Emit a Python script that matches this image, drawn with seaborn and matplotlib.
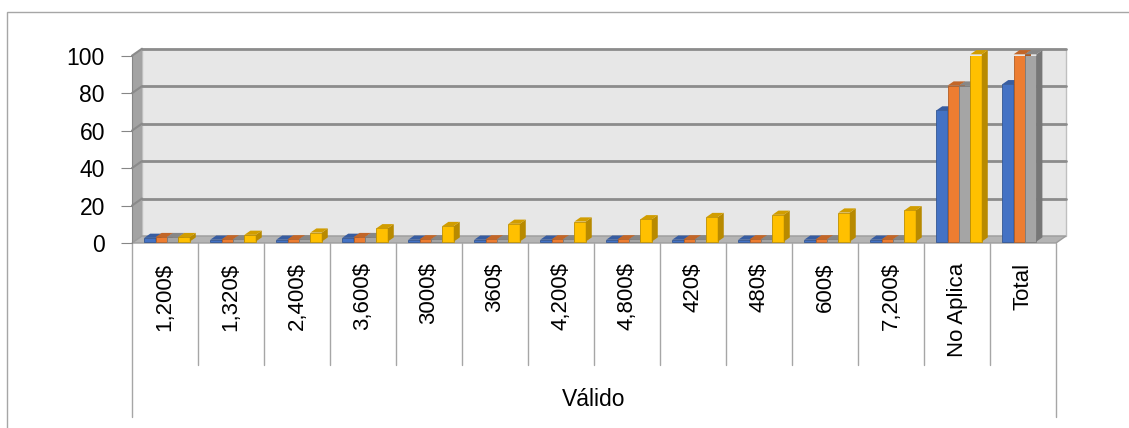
import numpy as np
import pandas as pd
import matplotlib
matplotlib.use('Agg')
import matplotlib.pyplot as plt
import seaborn as sns
from matplotlib.patches import Polygon, Rectangle
from matplotlib.lines import Line2D
from matplotlib.transforms import IdentityTransform, offset_copy, blended_transform_factory
from matplotlib.colors import to_rgb

# data (SPSS frequency table)
categories = ['1,200$', '1,320$', '2,400$', '3,600$', '3000$', '360$', '4,200$',
              '4,800$', '420$', '480$', '600$', '7,200$', 'No Aplica', 'Total']
frecuencia = [2, 1, 1, 2, 1, 1, 1, 1, 1, 1, 1, 1, 70, 84]
porcentaje = [2.4, 1.2, 1.2, 2.4, 1.2, 1.2, 1.2, 1.2, 1.2, 1.2, 1.2, 1.2, 83.3, 100]
porcentaje_valido = [2.4, 1.2, 1.2, 2.4, 1.2, 1.2, 1.2, 1.2, 1.2, 1.2, 1.2, 1.2, 83.3, 100]
porcentaje_acumulado = [2.4, 3.6, 4.8, 7.1, 8.3, 9.5, 10.7, 11.9, 13.1, 14.3, 15.5, 16.7, 100, np.nan]
series_names = ['Frecuencia', 'Porcentaje', 'Porcentaje válido', 'Porcentaje acumulado']
colors = ['#4472C4', '#ED7D31', '#A5A5A5', '#FFC000']

sns.set_style('white')
plt.rcParams['font.family'] = ['Liberation Sans', 'DejaVu Sans']
plt.rcParams['text.color'] = 'black'
plt.rcParams['xtick.color'] = 'black'
plt.rcParams['ytick.color'] = 'black'

df = pd.DataFrame({
    'Categoria': categories * 4,
    'Serie': np.repeat(series_names, len(categories)),
    'Valor': frecuencia + porcentaje + porcentaje_valido + porcentaje_acumulado,
}).dropna()

W, H = 1129, 428
fig = plt.figure(figsize=(W / 100, H / 100), dpi=100)
ax = fig.add_axes([132 / W, (H - 243) / H, 924 / W, 187.3 / H])

sns.barplot(data=df, x='Categoria', y='Valor', hue='Serie', order=categories,
            hue_order=series_names, palette=colors, saturation=1, width=0.69,
            errorbar=None, legend=False, ax=ax)
bars = [p for p in ax.patches if np.isfinite(p.get_height())]

ax.set_xlim(-0.5, len(categories) - 0.5)
ax.set_ylim(0, 100)
ax.patch.set_visible(False)
ax.set_xlabel('')
ax.set_ylabel('')
for s in ['top', 'right', 'bottom']:
    ax.spines[s].set_visible(False)
ax.spines['left'].set_color('#868686')
ax.set_yticks(range(0, 101, 20))
ax.tick_params(axis='y', left=True, length=8, color='#868686', labelcolor='black',
               labelsize=16.5, pad=11.5)
ax.set_xticks(range(len(categories)))
ax.set_xticklabels(categories, rotation=90)
ax.tick_params(axis='x', length=0, labelcolor='black', labelsize=16, pad=14)

ident = IdentityTransform()
x0, x1 = -0.5, len(categories) - 0.5
wd = np.array([10, 7])  # depth of the 3D walls in pixels


def px(x, y):
    return ax.transData.transform((x, y))


def shade(c, f):
    return tuple(np.array(to_rgb(c)) * f)


# back wall + gridlines
back = offset_copy(ax.transData, fig=fig, x=wd[0], y=wd[1], units='dots')
ax.add_artist(Rectangle((x0, 0), x1 - x0, 100, transform=back, facecolor='#E7E7E7',
                        edgecolor='#BFBFBF', lw=1, zorder=0.5, clip_on=False))
for v in range(20, 101, 20):
    ax.add_artist(Line2D([x0, x1], [v, v], transform=back, color='#8C8C8C', lw=2,
                         zorder=0.6, clip_on=False))

# left side wall
a, b = px(x0, 0), px(x0, 100)
ax.add_artist(Polygon([a, b, b + wd, a + wd], closed=True, transform=ident,
                      facecolor='#A3A3A3', edgecolor='none', zorder=0.7, clip_on=False))
for v in range(20, 101, 20):
    p = px(x0, v)
    ax.add_artist(Line2D([p[0], p[0] + wd[0]], [p[1], p[1] + wd[1]], transform=ident,
                         color='#8A8A8A', lw=1.5, zorder=0.75, clip_on=False))

# floor
a, b = px(x0, 0), px(x1, 0)
ax.add_artist(Polygon([a, b, b + wd, a + wd], closed=True, transform=ident,
                      facecolor='#B4B4B4', edgecolor='#9C9C9C', lw=1, zorder=0.8, clip_on=False))

# 3D bars
fo = np.array([2, 1.4])
bd = np.array([6, 4.2])
front = offset_copy(ax.transData, fig=fig, x=fo[0], y=fo[1], units='dots')
for i, p in enumerate(sorted(bars, key=lambda r: r.get_x())):
    x, w, h = p.get_x(), p.get_width(), p.get_height()
    c = p.get_facecolor()[:3]
    z = 3 + i * 0.01
    p.set_transform(front)
    p.set_zorder(z)
    p.set_edgecolor(shade(c, 0.75))
    p.set_linewidth(0.6)
    br, tl, tr = px(x + w, 0) + fo, px(x, h) + fo, px(x + w, h) + fo
    ax.add_artist(Polygon([br, tr, tr + bd, br + bd], closed=True, transform=ident,
                          facecolor=shade(c, 0.72), edgecolor='none', zorder=z, clip_on=False))
    ax.add_artist(Polygon([tl, tr, tr + bd, tl + bd], closed=True, transform=ident,
                          facecolor=shade(c, 0.82), edgecolor='none', zorder=z, clip_on=False))

# category separators below the axis
sep = blended_transform_factory(ax.transData, ident)
for k in range(len(categories) + 1):
    xs = x0 + k
    bottom = 417 if k in (0, len(categories)) else 365
    ax.add_artist(Line2D([xs, xs], [H - 243, H - bottom], transform=sep,
                         color='#A6A6A6', lw=1, clip_on=False))

fig.text(594 / W, (H - 399) / H, 'Válido', ha='center', va='center', fontsize=16.5)

# chart frame
fig.add_artist(Rectangle((7, -20), 1200, H - 11.5 + 20, transform=ident, fill=False,
                         edgecolor='#A6A6A6', lw=1))

fig.savefig('out.png', dpi=100)
